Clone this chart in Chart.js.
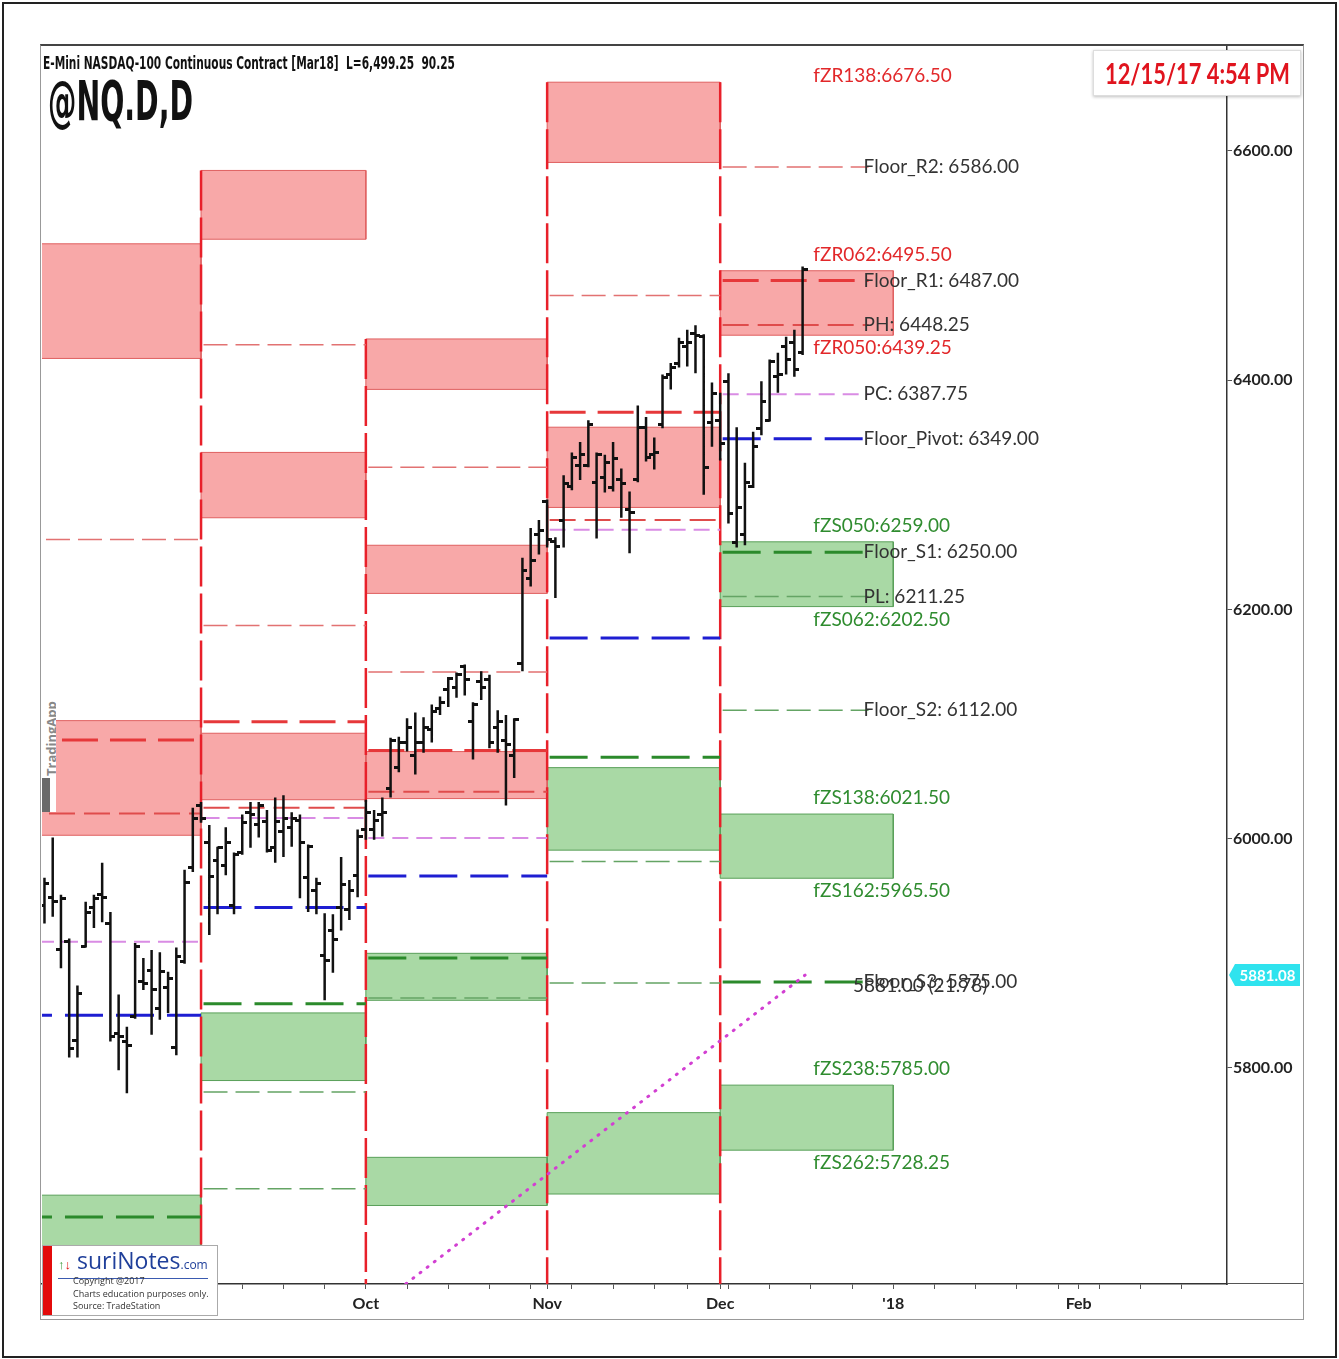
<!DOCTYPE html>
<html>
<head>
<meta charset="utf-8">
<script src="https://cdn.jsdelivr.net/npm/chart.js@4.4.0/dist/chart.umd.min.js"></script>
<style>
  html, body { margin: 0; padding: 0; background: #fff; }
  body { width: 1339px; height: 1359px; position: relative; overflow: hidden; font-family: Lato, "Open Sans", sans-serif; }
  #frame { position: absolute; left: 2px; top: 2px; width: 1331px; height: 1352px; border: 2px solid #222; }
  #panel { position: absolute; left: 40px; top: 44px; width: 1262px; height: 1273px; border: 1px solid #999; border-top: 2px solid #444; }
  #wrap { position: absolute; left: 41px; top: 46px; width: 1262px; height: 1272px; }
  #axisTail { position: absolute; left: 1227px; top: 1283px; width: 76px; height: 1px; background: #555; }
  .fit { position: absolute; white-space: nowrap; transform-origin: 0 0; display: inline-block; }
  #title { left: 43px; top: 52px; font: bold 18px "Liberation Sans Narrow", "DejaVu Sans Condensed", Roboto, sans-serif; color: #111; }
  #symbol { left: 48px; top: 68px; font: bold 56px "Liberation Sans Narrow", "DejaVu Sans Condensed", Roboto, sans-serif; color: #111; }
  #stamp { position: absolute; left: 1093px; top: 50px; width: 206px; height: 44px; background: #fff; border: 1px solid #ddd; box-shadow: 0 1px 3px rgba(0,0,0,0.25); }
  #stampText { left: 11px; top: 5px; font: bold 28px Lato, sans-serif; color: #e0141e; }
  #logo { position: absolute; left: 42px; top: 1245px; width: 176px; height: 71px; background: #fff; border: 1px solid #aaa; box-sizing: border-box; }
  #logo .bar { position: absolute; left: 0; top: 0; width: 9px; height: 100%; background: #e30b0b; }
  #logo .brand { position: absolute; left: 15px; top: 1px; font: 23px "Open Sans", sans-serif; color: #1f3f9a; border-bottom: 1px solid #3a5ab0; line-height: 26px; }
  #logo .brand .arr { font-size: 13px; color: #3a9a3a; }
  #logo .brand .arr b { color: #e01010; font-weight: normal; }
  #logo .brand .com { font-size: 12px; }
  #logo .small { position: absolute; left: 30px; top: 29px; font: 9px "Open Sans", sans-serif; color: #333; line-height: 12.5px; }
  #tapp { position: absolute; left: 42px; top: 690px; width: 14px; height: 122px; background: #fff; overflow: hidden; }
  #tapp span { position: absolute; left: 0; top: 86px; transform-origin: 0 0; transform: rotate(-90deg); font: bold 13px "Open Sans", sans-serif; color: #888; white-space: nowrap; }
  #tapp i { position: absolute; left: 0; top: 88px; width: 8px; height: 34px; background: #6a6a6a; }
</style>
</head>
<body>
<div id="frame"></div>
<div id="panel"></div>
<div id="wrap"><canvas id="chart"></canvas></div>
<div id="axisTail"></div>
<div id="title" class="fit">E-Mini NASDAQ-100 Continuous Contract [Mar18]&nbsp; L=6,499.25&nbsp; 90.25</div>
<div id="symbol" class="fit">@NQ.D,D</div>
<div id="stamp"><div id="stampText" class="fit">12/15/17 4:54 PM</div></div>
<div id="tapp"><span>TradingApp</span><i></i></div>
<div id="logo">
  <div class="bar"></div>
  <div class="brand"><span class="arr">&#8593;<b>&#8595;</b></span> suriNotes<span class="com">.com</span></div>
  <div class="small">Copyright @2017<br>Charts education purposes only.<br>Source: TradeStation</div>
</div>
<script>
// daily bars, index 0 = first trading day of October 2017
const firstBar = -39;
const opens = [
  5942, 5949, 5903, 5910, 5824, 5906, 5940, 5951, 5926, 5830, 5823, 5845, 5875, 5885, 5852, 5870, 5818, 5893, 5975,
  6029, 5997, 5981, 5977, 5942, 5988, 6023, 6012, 6015, 5992, 6006, 6010, 6016, 5966, 5955, 5898, 5920, 5940, 5938, 5968,
  6008, 6008, 6021, 6044, 6062, 6084, 6073, 6084, 6095, 6114, 6130, 6132, 6150, 6102, 6137, 6139, 6097, 6086, 6073, 6153, 6227, 6265,
  6294, 6259, 6278, 6307, 6326, 6326, 6311, 6315, 6306, 6313, 6287, 6313, 6359, 6335, 6361, 6405, 6415, 6429, 6441, 6438, 6363,
  6365, 6399, 6258, 6265, 6307, 6358, 6365, 6403, 6429, 6433, 6424
];
const highs = [
  5966, 6001, 5951, 5913, 5872, 5945, 5951, 5979, 5936, 5864, 5836, 5909, 5896, 5903, 5901, 5884, 5905, 5973, 6027,
  6032, 6012, 5993, 6010, 5988, 6021, 6032, 6032, 6025, 6036, 6038, 6023, 6021, 5995, 5966, 5935, 5934, 5984, 5964, 6008,
  6034, 6025, 6036, 6088, 6089, 6105, 6110, 6106, 6117, 6124, 6141, 6145, 6152, 6119, 6146, 6143, 6112, 6108, 6105, 6245, 6271, 6278,
  6296, 6263, 6317, 6337, 6346, 6365, 6337, 6335, 6346, 6323, 6303, 6378, 6368, 6350, 6405, 6415, 6437, 6444, 6448, 6440, 6398,
  6389, 6406, 6359, 6328, 6355, 6399, 6418, 6424, 6438, 6444, 6499.25
];
const lows = [
  5926, 5932, 5887, 5809, 5809, 5905, 5922, 5927, 5823, 5798, 5778, 5843, 5868, 5829, 5842, 5848, 5811, 5891, 5971,
  6014, 5916, 5934, 5968, 5934, 5986, 5992, 6001, 5988, 5979, 5984, 5993, 5948, 5936, 5934, 5859, 5883, 5920, 5929, 5949,
  5999, 5999, 6002, 6036, 6058, 6076, 6056, 6075, 6084, 6108, 6115, 6123, 6125, 6069, 6121, 6079, 6075, 6029, 6053, 6146, 6220, 6248,
  6254, 6210, 6254, 6304, 6313, 6324, 6262, 6302, 6303, 6280, 6249, 6311, 6329, 6322, 6358, 6392, 6411, 6412, 6406, 6300, 6342,
  6330, 6275, 6254, 6256, 6306, 6352, 6364, 6389, 6405, 6403, 6422
];
const closes = [
  5961, 5945, 5948, 5817, 5865, 5936, 5948, 5949, 5827, 5827, 5820, 5906, 5874, 5868, 5884, 5878, 5897, 5962, 6018,
  6018, 5967, 5992, 5997, 5986, 6014, 6021, 6029, 5990, 6015, 6018, 6018, 5997, 5993, 5961, 5894, 5912, 5960, 5955, 6002,
  6023, 6016, 6023, 6086, 6084, 6097, 6084, 6097, 6111, 6119, 6140, 6143, 6139, 6117, 6132, 6084, 6102, 6082, 6104, 6234, 6243, 6269,
  6261, 6255, 6310, 6333, 6335, 6361, 6335, 6328, 6332, 6310, 6285, 6359, 6333, 6337, 6402, 6411, 6433, 6433, 6439, 6324, 6388,
  6345, 6284, 6289, 6311, 6342, 6381, 6416, 6405, 6418, 6409, 6497
];

// monthly columns (Aug..Dec) in bar-index units
const colStart = [-43, -20, 0, 22, 43];
const colEnd = [-20, 0, 22, 43, 64];
const levelEnd = [-20, 0, 22, 43, 61];
const separatorTop = [6583, 6436, 6660, 6660];

// zones: [column, top, bottom]
const redZones = [
  [0, 6519, 6419], [0, 6103, 6003],
  [1, 6583, 6523], [1, 6337, 6280], [1, 6092, 6034],
  [2, 6436, 6392], [2, 6256, 6214], [2, 6076, 6035],
  [3, 6660, 6590], [3, 6359, 6289],
  [4, 6495.50, 6439.25]
];
const greenZones = [
  [0, 5689, 5640],
  [1, 5848, 5789],
  [2, 5900, 5859], [2, 5722, 5680],
  [3, 6062, 5990], [3, 5761, 5690],
  [4, 6259.00, 6202.50], [4, 6021.50, 5965.50], [4, 5785.00, 5728.25]
];

// floor pivot levels: [column, kind, price]
const levels = [
  [0, 'R2', 6261], [0, 'R1', 6086], [0, 'PH', 6022], [0, 'PC', 5910], [0, 'P', 5846], [0, 'S1', 5670],
  [1, 'R3', 6431], [1, 'R2', 6186], [1, 'R1', 6102], [1, 'PH', 6027], [1, 'PC', 6018], [1, 'P', 5940],
  [1, 'S1', 5856], [1, 'PL', 5779], [1, 'S2', 5694.5],
  [2, 'R3', 6324], [2, 'R2', 6145.5], [2, 'R1', 6077], [2, 'PH', 6041], [2, 'PC', 6000.5], [2, 'P', 5967.5],
  [2, 'S1', 5896], [2, 'PL', 5861],
  [3, 'R2', 6474], [3, 'R1', 6372], [3, 'PH', 6278], [3, 'PC', 6269.5], [3, 'P', 6175], [3, 'S1', 6071],
  [3, 'PL', 5980], [3, 'S2', 5874],
  [4, 'R2', 6586], [4, 'R1', 6487], [4, 'PH', 6448.25], [4, 'PC', 6387.75], [4, 'P', 6349], [4, 'S1', 6250],
  [4, 'PL', 6211.25], [4, 'S2', 6112], [4, 'S3', 5875]
];
const floorNames = { R2: 'Floor_R2', R1: 'Floor_R1', PH: 'PH', PC: 'PC', P: 'Floor_Pivot', S1: 'Floor_S1', PL: 'PL', S2: 'Floor_S2', S3: 'Floor_S3' };

// december zone labels: [name, price, side, edge]
const zoneLabels = [
  ['fZR138', 6676.50, 'R', 'bottom'],
  ['fZR062', 6495.50, 'R', 'top'], ['fZR050', 6439.25, 'R', 'bottom'],
  ['fZS050', 6259.00, 'S', 'top'], ['fZS062', 6202.50, 'S', 'bottom'],
  ['fZS138', 6021.50, 'S', 'top'], ['fZS162', 5965.50, 'S', 'bottom'],
  ['fZS238', 5785.00, 'S', 'top'], ['fZS262', 5728.25, 'S', 'bottom']
];
const zoneLabelX = 54.3;
const floorLabelX = 60.4;

// trend line
const trendStart = [4.85, 5611.6];
const trendEnd = [53.3, 5881.0];
const trendText = '5881.00 (21.78)';
const lastTag = 5881.08;

// axes
const priceTicks = [5800, 6000, 6200, 6400, 6600];
const monthTicks = [[-20, 'Sep'], [0, 'Oct'], [22, 'Nov'], [43, 'Dec'], [64, "'18"], [86.5, 'Feb']];
const weekTicks = [-35, -30, -25, -15, -10, -5, 5, 10, 15, 20, 25, 30, 35, 39, 44, 49, 54, 59, 69, 74, 79, 84, 89, 94, 99];

const kindStyle = {
  R3: 'redThin', R2: 'redThin', PH: 'redMid', R1: 'redThick', PC: 'pink', P: 'blue',
  S1: 'greenThick', S3: 'greenThick', PL: 'greenThin', S2: 'greenThin'
};
const styles = {
  redThick: { color: '#e6383a', width: 3, dash: [36, 12] },
  redMid: { color: '#df4c4c', width: 2, dash: [26, 9] },
  redThin: { color: '#e27272', width: 1.5, dash: [24, 8] },
  pink: { color: '#d98ce4', width: 2, dash: [16, 8] },
  blue: { color: '#1e1ed2', width: 3, dash: [38, 13] },
  greenThick: { color: '#2b8a2b', width: 3, dash: [38, 13] },
  greenThin: { color: '#64a464', width: 1.5, dash: [24, 8] }
};

function tickImage(side) {
  const c = document.createElement('canvas');
  c.width = 10; c.height = 3;
  const g = c.getContext('2d');
  g.fillStyle = '#111';
  if (side === 'left') g.fillRect(0, 0, 5, 3); else g.fillRect(5, 0, 5, 3);
  return c;
}

const barIdx = opens.map((_, k) => firstBar + k);
const rangeData = barIdx.flatMap((x, k) => [{ x, y: highs[k] }, { x, y: lows[k] }, { x, y: null }]);

const datasets = [];
datasets.push({
  type: 'line', data: rangeData, borderColor: '#111', borderWidth: 2.5, pointRadius: 0,
  spanGaps: false, order: 0
});
datasets.push({
  type: 'line', data: barIdx.map((x, k) => ({ x, y: opens[k] })), showLine: false,
  pointStyle: tickImage('left'), pointRadius: 4, order: 0
});
datasets.push({
  type: 'line', data: barIdx.map((x, k) => ({ x, y: closes[k] })), showLine: false,
  pointStyle: tickImage('right'), pointRadius: 4, order: 0
});
datasets.push({
  type: 'line', data: [{ x: trendStart[0], y: trendStart[1] }, { x: trendEnd[0], y: trendEnd[1] }],
  borderColor: '#d23fd2', borderWidth: 3, borderDash: [1, 8], borderCapStyle: 'round',
  pointRadius: 0, order: 1
});
Object.keys(styles).forEach(name => {
  const st = styles[name];
  const data = levels.filter(l => kindStyle[l[1]] === name).flatMap(([c, , p]) => [
    { x: colStart[c] + 0.3, y: p }, { x: levelEnd[c], y: p }, { x: levelEnd[c], y: null }
  ]);
  datasets.push({
    type: 'line', data, borderColor: st.color, borderWidth: st.width, borderDash: st.dash,
    pointRadius: 0, spanGaps: false, order: 2
  });
});
datasets.push({
  type: 'line',
  data: separatorTop.flatMap((top, k) => [
    { x: colStart[k + 1], y: top }, { x: colStart[k + 1], y: 5600 }, { x: colStart[k + 1], y: null }
  ]),
  borderColor: '#e8202a', borderWidth: 2.5, borderDash: [40, 7], pointRadius: 0, spanGaps: false, order: 3
});
function zoneSet(z, fill, edge) {
  const [c, top, bot] = z;
  return {
    type: 'line',
    data: [
      { x: colStart[c], y: top }, { x: colEnd[c], y: top }, { x: colEnd[c], y: bot },
      { x: colStart[c], y: bot }, { x: colStart[c], y: top }
    ],
    fill: 'shape', backgroundColor: fill, borderColor: edge, borderWidth: 1,
    pointRadius: 0, order: 4
  };
}
redZones.forEach(z => datasets.push(zoneSet(z, '#f8a8a8', '#e06060')));
greenZones.forEach(z => datasets.push(zoneSet(z, '#a9d9a5', '#5aa05a')));

const labelPlugin = {
  id: 'labelPlugin',
  afterDatasetsDraw(chart) {
    const { ctx, scales: { x, y }, chartArea } = chart;
    ctx.save();
    ctx.textBaseline = 'middle';
    ctx.textAlign = 'left';
    ctx.font = '19px Lato, "Open Sans", sans-serif';
    zoneLabels.forEach(([name, price, side, edge]) => {
      ctx.fillStyle = side === 'R' ? '#e2282a' : '#2f8c2f';
      const py = y.getPixelForValue(price) + (edge === 'top' ? -16 : 13);
      ctx.fillText(name + ':' + price.toFixed(2), x.getPixelForValue(zoneLabelX), py);
    });
    ctx.fillStyle = '#333';
    levels.filter(l => l[0] === 4).forEach(([, kind, price]) => {
      ctx.fillText(floorNames[kind] + ': ' + price.toFixed(2), x.getPixelForValue(floorLabelX), y.getPixelForValue(price));
    });
    ctx.fillStyle = '#333';
    ctx.fillText(trendText, x.getPixelForValue(trendEnd[0]) + 48, y.getPixelForValue(trendEnd[1]) + 11);

    // last value tag on the price axis
    const ty = y.getPixelForValue(lastTag);
    const l = chartArea.right + 2, r = chartArea.right + 73;
    ctx.fillStyle = '#2fe3ee';
    ctx.beginPath();
    ctx.moveTo(l, ty);
    ctx.lineTo(l + 6, ty - 11);
    ctx.lineTo(r, ty - 11);
    ctx.lineTo(r, ty + 11);
    ctx.lineTo(l + 6, ty + 11);
    ctx.closePath();
    ctx.fill();
    ctx.fillStyle = '#fff';
    ctx.font = 'bold 15px Lato, sans-serif';
    ctx.textAlign = 'center';
    ctx.fillText(lastTag.toFixed(2), (l + r) / 2 + 3, ty + 1);
    ctx.restore();
  }
};

Chart.defaults.font.family = 'Lato, "Open Sans", sans-serif';

new Chart(document.getElementById('chart'), {
  type: 'line',
  data: { datasets },
  options: {
    responsive: true,
    maintainAspectRatio: false,
    animation: false,
    events: [],
    layout: { autoPadding: false, padding: { left: 1, top: 1, right: 0, bottom: 0 } },
    plugins: { legend: { display: false }, tooltip: { enabled: false } },
    scales: {
      x: {
        type: 'linear', min: -39.3, max: 104.5, offset: false,
        afterBuildTicks: s => {
          s.ticks = monthTicks.map(m => m[0]).concat(weekTicks).sort((a, b) => a - b).map(v => ({ value: v }));
        },
        afterFit: s => { s.height = 34; s.paddingLeft = 0; s.paddingRight = 0; },
        ticks: {
          autoSkip: false, maxRotation: 0, padding: 5, color: '#222',
          font: { size: 16, weight: 'bold' },
          callback: v => { const m = monthTicks.find(t => t[0] === v); return m ? m[1] : ''; }
        },
        grid: { drawOnChartArea: false, drawTicks: true, tickLength: 5, color: '#555' },
        border: { display: true, color: '#333', width: 1.5 }
      },
      y: {
        type: 'linear', position: 'right', min: 5611.5, max: 6690.7,
        afterBuildTicks: s => { s.ticks = priceTicks.map(v => ({ value: v })); },
        afterFit: s => { s.width = 76; s.paddingTop = 0; s.paddingBottom = 0; },
        ticks: {
          padding: 1, color: '#222', font: { size: 16, weight: 'bold' },
          callback: v => Number(v).toFixed(2)
        },
        grid: { drawOnChartArea: false, drawTicks: true, tickLength: 5, color: '#555' },
        border: { display: true, color: '#333', width: 1.5 }
      }
    }
  },
  plugins: [labelPlugin]
});

function fit(id, w) {
  const el = document.getElementById(id);
  const r = el.getBoundingClientRect().width;
  if (r > 0) el.style.transform = 'scaleX(' + (w / r) + ')';
}
fit('title', 412);
fit('symbol', 145);
fit('stampText', 185);
</script>
</body>
</html>
